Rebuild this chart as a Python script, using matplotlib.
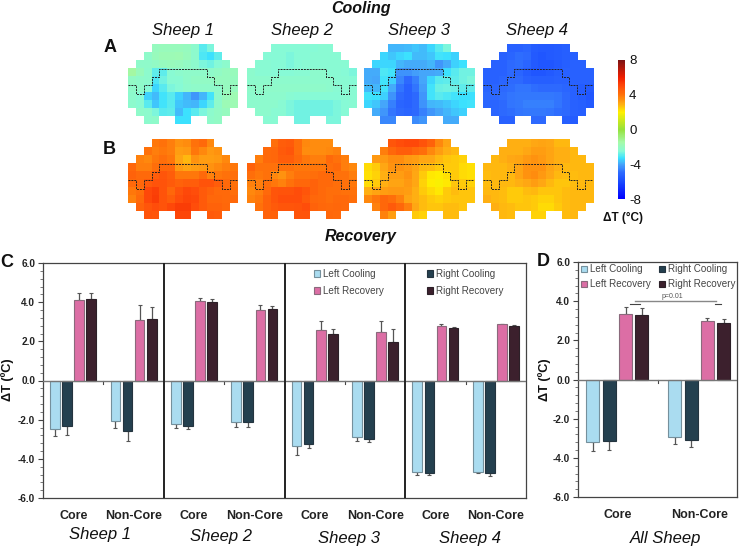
import numpy as np
import matplotlib
matplotlib.use("Agg")
import matplotlib.pyplot as plt
from matplotlib.colors import LinearSegmentedColormap
from matplotlib.ticker import MultipleLocator

plt.rcParams['font.family'] = ['Liberation Sans', 'DejaVu Sans']

W, H = 741, 547

# Heat maps: only the cells inside the head outline, row by row
row_cols = [range(3, 11), range(2, 12), range(1, 13), range(14), range(14), range(14), range(14), range(14), range(1, 13), [2, 3, 6, 7, 10, 11]]

cool_1 = [[-2.0, -1.9, -1.9, -1.9, -2.0, -2.3, -3.0, -2.6],
          [-2.2, -1.9, -1.8, -1.8, -1.7, -1.9, -2.3, -3.1, -3.3, -2.9],
          [-2.2, -2.2, -2.1, -2.0, -1.9, -2.0, -2.1, -2.3, -2.6, -2.7, -2.5, -2.3],
          [-1.4, -1.9, -2.3, -2.9, -2.9, -2.4, -2.3, -2.2, -2.2, -2.2, -2.2, -2.1, -2.0, -1.9],
          [-2.1, -2.2, -2.3, -3.1, -2.7, -2.4, -2.4, -2.2, -2.1, -2.1, -2.1, -2.0, -2.0, -2.0],
          [-2.2, -2.2, -2.5, -3.4, -3.0, -2.6, -2.5, -2.3, -2.2, -2.2, -2.2, -2.2, -2.0, -2.0],
          [-2.3, -2.5, -3.5, -3.7, -3.2, -3.0, -3.5, -3.8, -4.2, -3.8, -3.2, -2.3, -1.9, -1.7],
          [-2.3, -2.4, -3.0, -3.6, -3.2, -3.0, -3.6, -3.7, -3.8, -3.4, -2.9, -2.2, -1.8, -1.7],
          [-2.2, -2.3, -2.6, -3.0, -2.9, -3.7, -3.3, -3.0, -2.6, -2.3, -2.1, -2.0],
          [-2.3, -2.2, -3.3, -3.3, -2.2, -2.1]]
cool_2 = [[-2.5, -2.5, -2.5, -2.5, -2.5, -2.5, -2.4, -2.4],
          [-2.5, -2.5, -2.5, -2.6, -2.5, -2.5, -2.4, -2.4, -2.4, -2.4],
          [-2.4, -2.4, -2.5, -2.5, -2.6, -2.5, -2.4, -2.4, -2.4, -2.4, -2.4, -2.4],
          [-2.3, -2.4, -2.4, -2.5, -2.5, -2.5, -2.4, -2.4, -2.3, -2.3, -2.4, -2.4, -2.5, -2.6],
          [-2.3, -2.3, -2.3, -2.3, -2.3, -2.3, -2.3, -2.3, -2.3, -2.3, -2.3, -2.4, -2.4, -2.5],
          [-2.2, -2.2, -2.2, -2.2, -2.2, -2.2, -2.2, -2.2, -2.2, -2.2, -2.3, -2.4, -2.4, -2.4],
          [-2.3, -2.3, -2.3, -2.3, -2.3, -2.4, -2.5, -2.5, -2.5, -2.5, -2.5, -2.5, -2.4, -2.4],
          [-2.3, -2.3, -2.3, -2.3, -2.4, -2.6, -2.7, -2.7, -2.7, -2.7, -2.7, -2.6, -2.5, -2.4],
          [-2.3, -2.3, -2.4, -2.4, -2.6, -2.7, -2.7, -2.7, -2.7, -2.7, -2.6, -2.5],
          [-2.4, -2.4, -2.7, -2.7, -2.6, -2.6]]
cool_3 = [[-3.8, -3.8, -3.7, -3.6, -3.7, -3.4, -3.0, -2.6],
          [-3.4, -3.6, -3.4, -3.3, -3.7, -3.7, -3.6, -3.2, -3.3, -3.5],
          [-3.4, -3.4, -3.4, -3.8, -3.9, -3.9, -3.9, -3.8, -4.2, -3.9, -3.5, -3.3],
          [-3.9, -3.9, -3.1, -3.2, -4.3, -4.3, -4.1, -4.0, -4.0, -3.9, -3.3, -3.0, -2.7, -2.7],
          [-3.9, -4.0, -3.2, -3.5, -4.5, -5.0, -4.6, -4.0, -3.4, -3.0, -2.9, -2.9, -2.7, -2.6],
          [-3.7, -3.8, -3.2, -3.9, -4.8, -5.2, -4.8, -4.1, -3.2, -2.8, -2.7, -2.8, -2.9, -2.9],
          [-3.2, -3.3, -3.5, -4.3, -5.0, -5.2, -5.0, -4.2, -3.2, -3.0, -3.1, -3.2, -3.3, -3.3],
          [-3.4, -3.6, -4.0, -4.6, -5.1, -5.2, -5.0, -4.3, -3.8, -3.7, -3.6, -3.4, -3.3, -3.2],
          [-3.9, -4.2, -4.8, -5.0, -5.1, -5.0, -4.6, -4.2, -4.0, -3.8, -3.6, -3.5],
          [-4.5, -4.5, -4.4, -4.2, -3.9, -3.9]]
cool_4 = [[-5.2, -5.2, -5.1, -5.4, -5.5, -5.5, -5.4, -5.3],
          [-5.2, -5.1, -4.9, -5.0, -5.5, -5.6, -5.5, -5.4, -5.3, -5.2],
          [-5.2, -5.2, -5.0, -4.9, -5.1, -5.5, -5.6, -5.6, -5.5, -5.3, -5.2, -5.2],
          [-5.2, -5.2, -5.2, -5.0, -5.1, -5.4, -5.6, -5.6, -5.5, -5.3, -5.2, -5.2, -5.2, -5.2],
          [-5.2, -5.2, -5.1, -5.0, -5.0, -5.2, -5.3, -5.3, -5.3, -5.2, -5.2, -5.2, -5.2, -5.2],
          [-5.1, -5.1, -5.0, -4.9, -4.8, -4.8, -4.9, -5.0, -5.0, -5.0, -5.1, -5.2, -5.4, -5.5],
          [-5.0, -5.0, -4.9, -4.8, -4.7, -4.7, -4.7, -4.7, -4.7, -4.8, -5.0, -5.2, -5.4, -5.6],
          [-5.1, -5.1, -5.0, -4.8, -4.7, -4.6, -4.6, -4.6, -4.6, -4.8, -5.0, -5.2, -5.3, -5.5],
          [-5.1, -5.0, -4.9, -4.8, -4.7, -4.7, -4.7, -4.8, -4.9, -5.0, -5.2, -5.3],
          [-5.2, -5.2, -5.0, -5.0, -5.3, -5.4]]
rec_1 = [[3.9, 4.0, 3.8, 3.4, 3.5, 4.0, 4.2, 3.6],
         [4.0, 3.8, 3.9, 3.8, 3.2, 3.3, 3.9, 3.6, 3.3, 3.4],
         [3.7, 3.6, 3.9, 4.1, 3.9, 3.1, 2.8, 3.4, 3.2, 3.2, 3.3, 3.6],
         [4.3, 3.8, 3.8, 4.1, 4.3, 4.3, 3.3, 3.1, 3.2, 3.3, 3.4, 3.6, 3.8, 3.9],
         [4.4, 4.2, 4.2, 4.5, 4.7, 4.5, 3.9, 3.9, 3.9, 4.2, 3.7, 3.9, 4.0, 4.1],
         [4.2, 4.3, 4.6, 4.8, 4.8, 4.6, 4.4, 4.5, 4.5, 4.8, 4.8, 4.5, 4.2, 4.0],
         [3.9, 4.1, 5.0, 5.2, 4.8, 4.3, 4.8, 5.0, 4.9, 4.6, 4.4, 4.2, 4.2, 4.1],
         [3.7, 4.2, 5.0, 5.3, 4.8, 4.5, 4.9, 5.1, 5.0, 4.6, 4.3, 4.3, 4.2, 4.2],
         [4.4, 4.7, 4.9, 4.8, 5.0, 5.3, 5.3, 4.9, 4.6, 4.4, 4.4, 4.3],
         [4.8, 4.7, 5.1, 5.1, 4.6, 4.5]]
rec_2 = [[4.1, 4.5, 4.6, 4.1, 3.6, 3.5, 3.5, 3.5],
         [4.2, 4.3, 4.6, 4.7, 4.1, 3.5, 3.5, 3.5, 3.6, 3.7],
         [3.8, 4.2, 4.3, 4.5, 4.5, 4.2, 3.9, 3.8, 3.8, 4.2, 4.0, 3.8],
         [4.4, 4.0, 4.0, 4.0, 4.0, 4.0, 3.9, 3.9, 3.9, 3.9, 4.1, 4.2, 3.8, 3.6],
         [4.1, 3.9, 4.0, 3.6, 3.4, 3.8, 4.0, 4.0, 4.1, 4.2, 4.2, 4.0, 4.0, 3.8],
         [3.7, 3.8, 4.1, 3.9, 3.7, 4.0, 4.3, 4.3, 4.4, 4.2, 4.2, 4.1, 4.0, 3.9],
         [3.6, 3.8, 4.2, 4.7, 4.8, 4.8, 4.9, 4.7, 4.4, 4.2, 4.1, 4.1, 4.0, 4.0],
         [3.7, 3.9, 4.4, 4.7, 4.9, 4.9, 4.9, 4.6, 4.3, 4.2, 4.1, 4.2, 4.2, 4.1],
         [4.0, 4.4, 4.6, 4.7, 4.7, 4.8, 4.9, 4.4, 4.3, 4.2, 4.3, 4.2],
         [4.4, 4.4, 4.8, 4.8, 4.3, 4.2]]
rec_3 = [[4.7, 4.9, 5.0, 5.0, 4.8, 4.4, 3.6, 3.1],
         [3.8, 4.3, 4.5, 4.5, 4.3, 4.1, 3.6, 3.2, 2.9, 2.8],
         [3.3, 3.3, 3.5, 3.5, 3.3, 3.2, 3.0, 3.0, 2.8, 2.6, 2.5, 2.4],
         [2.3, 2.5, 3.0, 3.4, 3.4, 3.3, 3.1, 2.8, 2.7, 2.5, 2.5, 2.5, 2.3, 2.2],
         [2.2, 2.4, 2.9, 3.2, 3.2, 3.4, 3.0, 2.5, 2.1, 2.0, 2.2, 2.5, 2.3, 2.2],
         [2.3, 2.5, 2.9, 3.1, 3.1, 3.3, 3.0, 2.4, 2.0, 1.9, 2.1, 2.6, 2.5, 2.4],
         [2.9, 3.1, 3.2, 3.3, 3.3, 3.2, 2.9, 2.5, 2.3, 2.1, 2.5, 2.7, 2.6, 2.6],
         [3.6, 3.9, 4.3, 4.1, 3.7, 3.1, 2.9, 2.7, 2.5, 2.4, 2.5, 2.6, 2.6, 2.6],
         [3.7, 4.3, 4.6, 4.3, 3.8, 3.0, 2.7, 2.6, 2.6, 2.7, 2.7, 2.6],
         [3.7, 3.2, 2.5, 2.4, 2.7, 2.7]]
rec_4 = [[2.9, 2.9, 2.9, 3.0, 3.1, 3.0, 2.8, 2.8],
         [2.9, 2.9, 2.9, 3.0, 3.2, 3.2, 3.1, 2.9, 2.9, 2.8],
         [2.8, 2.9, 3.0, 3.1, 3.3, 3.4, 3.3, 3.1, 2.9, 2.9, 2.8, 2.8],
         [2.8, 2.8, 2.8, 2.9, 3.1, 3.4, 3.4, 3.4, 3.1, 2.9, 2.8, 2.8, 2.8, 2.8],
         [2.7, 2.8, 2.8, 2.8, 3.1, 3.4, 3.5, 3.3, 3.0, 2.8, 2.7, 2.7, 2.8, 2.8],
         [2.7, 2.8, 2.8, 2.8, 2.9, 3.0, 3.2, 3.0, 2.8, 2.6, 2.6, 2.7, 2.8, 2.8],
         [2.8, 2.8, 2.7, 2.5, 2.5, 2.7, 2.8, 2.6, 2.6, 2.6, 2.7, 2.8, 2.8, 2.8],
         [2.9, 2.8, 2.7, 2.5, 2.5, 2.6, 2.5, 2.4, 2.4, 2.6, 2.7, 2.8, 2.8, 2.8],
         [2.9, 2.8, 2.7, 2.6, 2.6, 2.5, 2.3, 2.3, 2.5, 2.7, 2.8, 2.8],
         [2.8, 2.7, 2.4, 2.4, 2.7, 2.8]]

# core region outline, in cell units
outline_x = [0, 1, 1, 2, 2, 3, 3, 4, 4, 10, 10, 11, 11, 12, 12, 13, 13, 14]
outline_y = [5.1, 5.1, 6.2, 6.2, 5.1, 5.1, 4.1, 4.1, 3.1, 3.1, 4.1, 4.1, 5.1, 5.1, 6.2, 6.2, 5.1, 5.1]

# Panel C, order is core, non-core for sheep 1..4
c_left_cool = [-2.5, -2.07, -2.22, -2.1, -3.35, -2.88, -4.67, -4.65]
c_right_cool = [-2.33, -2.58, -2.33, -2.12, -3.25, -3.0, -4.7, -4.7]
c_left_rec = [4.1, 3.08, 4.05, 3.58, 2.6, 2.47, 2.77, 2.87]
c_right_rec = [4.17, 3.13, 4.0, 3.63, 2.35, 1.95, 2.68, 2.78]
c_left_cool_err = [0.33, 0.38, 0.2, 0.28, 0.47, 0.22, 0.15, 0.08]
c_right_cool_err = [0.43, 0.5, 0.17, 0.23, 0.2, 0.13, 0.12, 0.17]
c_left_rec_err = [0.38, 0.75, 0.17, 0.3, 0.45, 0.55, 0.1, 0.03]
c_right_rec_err = [0.28, 0.6, 0.15, 0.17, 0.3, 0.7, 0.07, 0.05]

# Panel D, core, non-core
d_left_cool = [-3.18, -2.92]
d_right_cool = [-3.15, -3.1]
d_left_rec = [3.37, 3.0]
d_right_rec = [3.3, 2.87]
d_left_cool_err = [0.45, 0.37]
d_right_cool_err = [0.45, 0.33]
d_left_rec_err = [0.35, 0.15]
d_right_rec_err = [0.35, 0.23]

group_labels = ["Core", "Non-Core"]
sheep_names = ["Sheep 1", "Sheep 2", "Sheep 3", "Sheep 4"]
yticks = [-6, -4, -2, 0, 2, 4, 6]
cbar_ticks = [-8, -4, 0, 4, 8]

# colormap
stops = [(-8, (0, 0, 255)), (-6, (25, 75, 255)), (-5, (45, 105, 255)), (-4, (70, 165, 250)),
         (-3.3, (60, 225, 255)), (-2.5, (135, 250, 215)), (-1.5, (165, 250, 170)), (0, (150, 225, 60)),
         (2, (255, 240, 0)), (3, (255, 170, 20)), (4, (255, 115, 10)), (5, (255, 75, 10)),
         (6, (240, 30, 0)), (8, (125, 20, 20))]
jetish = LinearSegmentedColormap.from_list("jetish", [((v + 8) / 16, tuple(c / 255 for c in rgb)) for v, rgb in stops])

COLORS = ["#aadcf0", "#24404f", "#dc6ea5", "#3c202d"]
EDGES = ["#75909c", "#24343f", "#8a6a7c", "#2c2028"]
SERIES = ["Left Cooling", "Right Cooling", "Left Recovery", "Right Recovery"]
FRAME = "#444444"
TEXT = "#222222"


def px_rect(left, top, right, bottom):
    return [left / W, 1 - bottom / H, (right - left) / W, (bottom - top) / H]


def label(x, y, s, **kw):
    kw.setdefault("ha", "center")
    kw.setdefault("va", "center")
    kw.setdefault("color", "#111111")
    fig.text(x / W, 1 - y / H, s, **kw)


def heat(left, top, rows):
    ax = fig.add_axes(px_rect(left, top, left + 110, top + 80))
    grid = np.full((10, 14), np.nan)
    for r, cols in enumerate(row_cols):
        grid[r, list(cols)] = rows[r]
    im = ax.imshow(grid, cmap=jetish, vmin=-8, vmax=8, extent=(0, 14, 10, 0), aspect="auto", interpolation="nearest")
    ax.plot(outline_x, outline_y, color="#222222", lw=0.7, ls=(0, (2, 1)))
    ax.axis("off")
    return im


def bars(ax, offset, vals, errs, tick_pos):
    # vals: four series, each with core and non-core value
    handles = []
    for s in range(4):
        for g in range(2):
            x = offset + 1 + 5 * g + s
            b = ax.bar(x, vals[s][g], width=0.8, color=COLORS[s], edgecolor=EDGES[s], linewidth=0.8, zorder=2)
            e = errs[s][g]
            yerr = [[e], [0]] if vals[s][g] < 0 else [[0], [e]]
            ax.errorbar(x, vals[s][g], yerr=yerr, color="#555555", lw=0.9, capsize=1.6, capthick=0.8, zorder=1)
        handles.append(b)
    # tiny tick on the empty category
    ax.plot([tick_pos, tick_pos], [0, -0.2], color="#444444", lw=0.8, zorder=1)
    return handles


def style_axis(ax, ylabel_x):
    ax.set_ylim(-6, 6)
    ax.set_yticks(yticks)
    ax.set_yticklabels(["%.1f" % t for t in yticks], fontweight="bold", fontsize=7.2, color=TEXT)
    ax.yaxis.set_minor_locator(MultipleLocator(0.4))
    ax.tick_params(axis="y", which="major", length=3.5, width=0.8, color=FRAME, pad=2)
    ax.tick_params(axis="y", which="minor", length=2, width=0.5, color=FRAME)
    ax.tick_params(axis="x", length=0, pad=8.5)
    for sp in ax.spines.values():
        sp.set_color(FRAME)
        sp.set_linewidth(0.9)
    ax.axhline(0, color="#777777", lw=1, zorder=3)
    label(ylabel_x, 380, "\u0394T (ºC)", rotation=90, fontweight="bold", fontsize=9.2)


fig = plt.figure(figsize=(W / 100, H / 100), dpi=100)

# heat maps
heat_lefts = [128, 247, 364, 483]
cool_rows = [cool_1, cool_2, cool_3, cool_4]
rec_rows = [rec_1, rec_2, rec_3, rec_4]
for i in range(4):
    im = heat(heat_lefts[i], 44, cool_rows[i])
    heat(heat_lefts[i], 139, rec_rows[i])

label(361, 8, "Cooling", fontweight="bold", style="italic", fontsize=11.5)
label(361, 236, "Recovery", fontweight="bold", style="italic", fontsize=11.5)
for name, x in zip(sheep_names, [183, 302, 419, 537]):
    label(x, 30.5, name, style="italic", fontsize=12)
label(110, 48, "A", fontweight="bold", fontsize=13)
label(109, 149, "B", fontweight="bold", fontsize=13)

# colorbar
cax = fig.add_axes(px_rect(618, 60, 625, 199))
cbar = fig.colorbar(im, cax=cax, ticks=cbar_ticks)
cbar.outline.set_visible(False)
cbar.ax.set_yticklabels([str(t) for t in cbar_ticks], fontsize=9.5, color="#111111")
cbar.ax.tick_params(length=0, pad=3)
label(623, 218, "\u0394T (°C)", fontweight="bold", fontsize=8.5)

# panel C
ax_c = fig.add_axes(px_rect(43, 263, 526, 498))
c_vals = [c_left_cool, c_right_cool, c_left_rec, c_right_rec]
c_errs = [c_left_cool_err, c_right_cool_err, c_left_rec_err, c_right_rec_err]
for k in range(4):
    vals = [v[2 * k:2 * k + 2] for v in c_vals]
    errs = [e[2 * k:2 * k + 2] for e in c_errs]
    hs = bars(ax_c, 10 * k, vals, errs, 10 * k + 5)
ax_c.set_xlim(0, 40)
for k in range(1, 4):
    ax_c.axvline(10 * k, color="#222222", lw=1.4, zorder=4)
ax_c.set_xticks([10 * k + p for k in range(4) for p in (2.5, 7.5)])
ax_c.set_xticklabels(group_labels * 4, fontweight="bold", fontsize=9, color=TEXT)
style_axis(ax_c, 8)
for name, x, y in zip(sheep_names, [100, 221, 349, 470], [535, 537, 538, 538]):
    label(x, y, name, style="italic", fontsize=12)
label(7, 263, "C", fontweight="bold", fontsize=13)

order = [hs[0], hs[2], hs[1], hs[3]]
names = [SERIES[0], SERIES[2], SERIES[1], SERIES[3]]
ax_c.legend(order, names, ncol=2, frameon=False, fontsize=7.1, labelcolor="#444444", handlelength=0.6, handleheight=0.6,
            handletextpad=0.35, columnspacing=4.3, labelspacing=0.72, loc="upper left", bbox_to_anchor=(0.549, 1.0), borderaxespad=0.2)

# panel D
ax_d = fig.add_axes(px_rect(578, 262, 737, 497))
d_vals = [d_left_cool, d_right_cool, d_left_rec, d_right_rec]
d_errs = [d_left_cool_err, d_right_cool_err, d_left_rec_err, d_right_rec_err]
hd = bars(ax_d, 0, d_vals, d_errs, 5)
ax_d.set_xlim(0.1, 9.8)
ax_d.set_xticks([2.5, 7.5])
ax_d.set_xticklabels(group_labels, fontweight="bold", fontsize=9, color=TEXT)
style_axis(ax_d, 545)
label(666, 538, "All Sheep", style="italic", fontsize=12)
label(543, 262, "D", fontweight="bold", fontsize=13)

ax_d.plot([3.58, 8.52], [4.0, 4.0], color="#888888", lw=1, zorder=3)
ax_d.plot([3.27, 3.88], [3.85, 3.85], color="#444444", lw=0.8)
ax_d.plot([8.46, 8.82], [3.85, 3.85], color="#444444", lw=0.8)
ax_d.text(5.83, 4.25, "p=0.01", ha="center", va="center", fontsize=5, color="#555555")
ax_d.legend([hd[0], hd[2], hd[1], hd[3]], names, ncol=2, frameon=False, fontsize=7.1, labelcolor="#444444", handlelength=0.6, handleheight=0.6,
            handletextpad=0.35, columnspacing=0.8, labelspacing=0.5, loc="upper left", bbox_to_anchor=(-0.02, 1.015), borderaxespad=0.2)

fig.savefig("out.png", dpi=100)
